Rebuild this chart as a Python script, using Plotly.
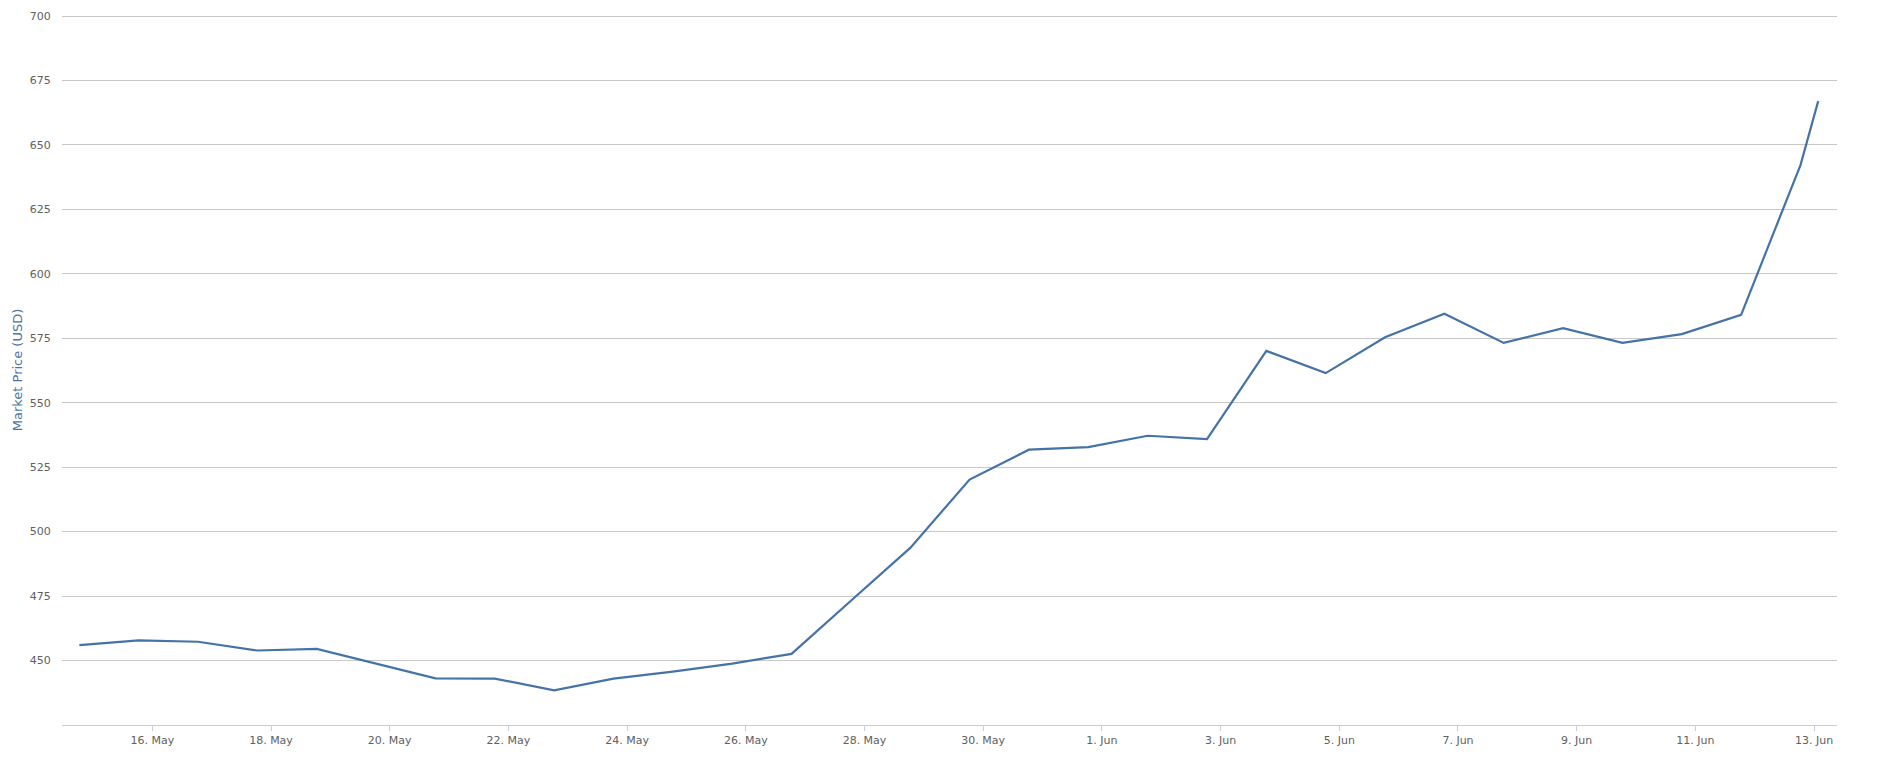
import plotly.graph_objects as go

dates = [
    "2016-05-14 18:30", "2016-05-15 18:30", "2016-05-16 18:30", "2016-05-17 18:30",
    "2016-05-18 18:30", "2016-05-19 18:30", "2016-05-20 18:30", "2016-05-21 18:30",
    "2016-05-22 18:30", "2016-05-23 18:30", "2016-05-24 18:30", "2016-05-25 18:30",
    "2016-05-26 18:30", "2016-05-27 18:30", "2016-05-28 18:30", "2016-05-29 18:30",
    "2016-05-30 18:30", "2016-05-31 18:30", "2016-06-01 18:30", "2016-06-02 18:30",
    "2016-06-03 18:30", "2016-06-04 18:30", "2016-06-05 18:30", "2016-06-06 18:30",
    "2016-06-07 18:30", "2016-06-08 18:30", "2016-06-09 18:30", "2016-06-10 18:30",
    "2016-06-11 18:30", "2016-06-12 18:30", "2016-06-13 01:40",
]
prices = [
    456.0, 457.8, 457.3, 453.9, 454.5, 448.7, 443.1, 443.0,
    438.4, 443.0, 445.7, 448.8, 452.6, 473.2, 493.7, 520.2,
    531.8, 532.8, 537.2, 535.9, 570.1, 561.5, 575.4, 584.5,
    573.2, 578.9, 573.2, 576.6, 584.1, 642.2, 667.0,
]
y_ticks = [450, 475, 500, 525, 550, 575, 600, 625, 650, 675, 700]

fig = go.Figure()
fig.add_trace(go.Scatter(
    x=dates, y=prices, mode="lines",
    line=dict(color="#4572A7", width=2.2),
    hoverinfo="x+y",
))

font_family = "Verdana, DejaVu Sans, sans-serif"

fig.update_layout(
    width=1883, height=763,
    margin=dict(l=62, r=46, t=10, b=38),
    paper_bgcolor="white", plot_bgcolor="white",
    showlegend=False,
    font=dict(family=font_family, size=11, color="#606060"),
    xaxis=dict(
        type="date",
        range=["2016-05-14 11:29", "2016-06-13 09:16"],
        tick0="2016-05-16", dtick=2 * 86400000,
        tickformat="%-d. %b",
        showgrid=False, zeroline=False,
        showline=True, linecolor="#C0D0E0", linewidth=1,
        ticks="outside", ticklen=5, tickcolor="#C0D0E0", tickwidth=1,
        tickfont=dict(family=font_family, size=11, color="#606060"),
    ),
    yaxis=dict(
        range=[425, 700.4],
        tickvals=y_ticks,
        showgrid=True, gridcolor="#C8C8C8", gridwidth=1,
        zeroline=False, showline=False,
        ticks="outside", ticklen=8, tickcolor="rgba(0,0,0,0)",
        tickfont=dict(family=font_family, size=11, color="#606060"),
        title=dict(text="Market Price (USD)", standoff=4,
                   font=dict(family=font_family, size=13, color="#4D759E")),
    ),
)

fig.write_html("out.html")
